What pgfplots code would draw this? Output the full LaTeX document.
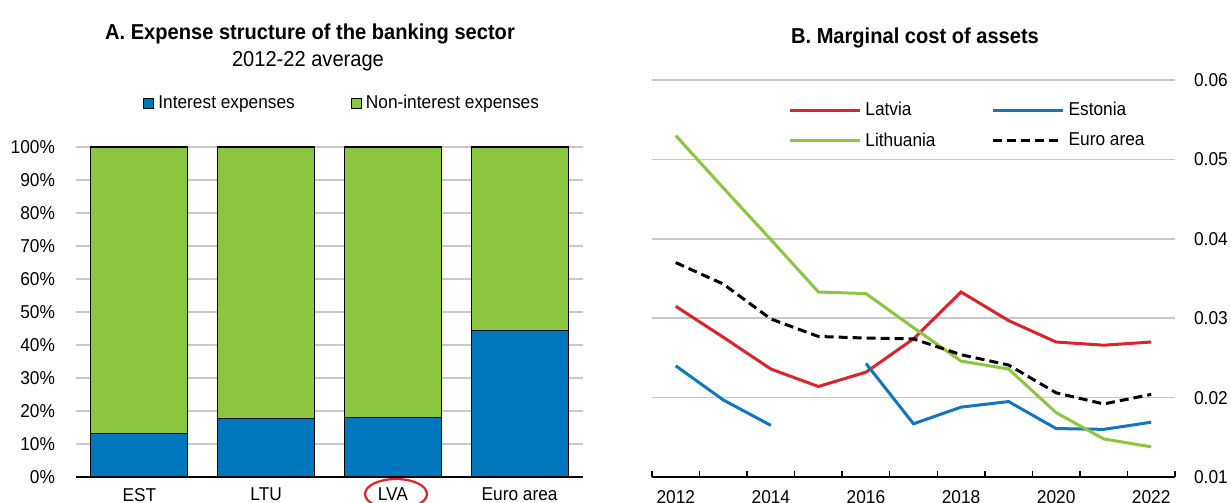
\documentclass[border=0pt]{standalone}
\usepackage{fontspec}
\setmainfont{Liberation Sans}[FakeStretch=0.93]
\usepackage{pgfplots}
\pgfplotsset{compat=1.18}

\definecolor{barblue}{RGB}{0,118,189}
\definecolor{bargreen}{RGB}{140,198,63}
\definecolor{linered}{RGB}{222,34,42}
\definecolor{lineblue}{RGB}{18,118,190}
\definecolor{gridgray}{RGB}{200,200,200}

\pgfplotsset{
  every axis/.append style={
    font=\fontsize{9.3}{11}\selectfont,
    scale only axis,
    /pgf/number format/assume math mode=true,
  },
}

\begin{document}
\begin{tikzpicture}
\useasboundingbox (0,0) rectangle (615.5pt,251.5pt);

% titles
\node[anchor=base,font=\fontsize{10.8}{12}\selectfont\bfseries] at (155pt,231.5pt) {A. Expense structure of the banking sector};
\node[anchor=base,font=\fontsize{10.8}{12}\selectfont] at (154pt,218pt) {2012-22 average};
\node[anchor=base,font=\fontsize{10.8}{12}\selectfont\bfseries] at (457.5pt,229.5pt) {B. Marginal cost of assets};

% panel A
\begin{axis}[
    at={(38pt,13pt)}, anchor=south west,
    width=253.5pt, height=165pt,
    ybar stacked, bar width=0.765,
    xmin=-0.5, xmax=3.5, ymin=0, ymax=100,
    xtick={0,1,2,3},
    xticklabels={EST,LTU,LVA,Euro area},
    ytick={0,10,...,100},
    yticklabel={\pgfmathprintnumber{\tick}\%},
    axis x line*=bottom, axis y line*=left,
    y axis line style={draw=none},
    x axis line style={line width=0.75pt},
    major tick length=0pt,
    ymajorgrids, grid style={gridgray,line width=0.8pt},
    yticklabel style={xshift=-7pt},
    xticklabel style={yshift=-2pt},
    legend style={at={(0.527,1.133)}, anchor=center, draw=none, fill=none,
      legend columns=2, inner sep=0pt,
      /tikz/every even column/.append style={column sep=26pt}},
    legend image code/.code={\draw[#1,draw=black,line width=0.5pt] (0pt,-2.5pt) rectangle (5pt,2.5pt);},
  ]
\addplot[fill=barblue,draw=black,line width=0.6pt] coordinates {(0,13.3) (1,17.8) (2,18.0) (3,44.5)};
\addplot[fill=bargreen,draw=black,line width=0.6pt] coordinates {(0,86.7) (1,82.2) (2,82.0) (3,55.5)};
\legend{Interest expenses,Non-interest expenses}
\end{axis}

\draw[linered,line width=1.1pt] (198pt,4.5pt) ellipse (15.5pt and 7.5pt);

% panel B
\begin{axis}[
    at={(326pt,13pt)}, anchor=south west,
    width=261.5pt, height=198.5pt,
    xmin=2011.5, xmax=2022.5, ymin=0.01, ymax=0.06,
    xtick={2012,2014,...,2022},
    minor xtick={2011.5,2012.5,...,2022.5},
    xticklabel style={/pgf/number format/1000 sep={}, yshift=-3pt},
    ytick={0.01,0.02,...,0.06},
    scaled y ticks=false,
    yticklabel style={/pgf/number format/fixed, /pgf/number format/precision=2,
      /pgf/number format/fixed zerofill, xshift=6pt},
    axis x line*=bottom, axis y line*=right,
    y axis line style={draw=none},
    x axis line style={line width=0.75pt},
    major tick length=0pt, minor tick length=3pt, tick align=inside,
    minor tick style={line width=0.75pt, black},
    ymajorgrids, grid style={gridgray,line width=0.8pt},
    unbounded coords=jump,
    legend style={at={(0.26,0.955)}, anchor=north west, draw=none, fill=none,
      legend columns=2, inner sep=0pt, row sep=3pt,
      /tikz/every even column/.append style={column sep=26pt}},
    legend cell align=left,
    legend image code/.code={\draw[#1] (0pt,0pt) -- (35pt,0pt);},
  ]
\addplot[linered,line width=1.5pt] coordinates {
  (2012,0.0315) (2013,0.0276) (2014,0.0236) (2015,0.0214) (2016,0.0232)
  (2017,0.0274) (2018,0.0333) (2019,0.0297) (2020,0.0270) (2021,0.0266) (2022,0.0270)};
\addplot[lineblue,line width=1.5pt] coordinates {
  (2012,0.0240) (2013,0.0197) (2014,0.0165) (2015,nan) (2016,0.0243)
  (2017,0.0167) (2018,0.0188) (2019,0.0195) (2020,0.0161) (2021,0.0160) (2022,0.0169)};
\addplot[bargreen,line width=1.5pt] coordinates {
  (2012,0.0530) (2013,0.0464) (2014,0.0399) (2015,0.0333) (2016,0.0331)
  (2017,0.0288) (2018,0.0246) (2019,0.0236) (2020,0.0181) (2021,0.0148) (2022,0.0138)};
\addplot[black,line width=1.5pt,dash pattern=on 4.5pt off 2.5pt] coordinates {
  (2012,0.0370) (2013,0.0343) (2014,0.0299) (2015,0.0277) (2016,0.0275)
  (2017,0.0274) (2018,0.0254) (2019,0.0241) (2020,0.0206) (2021,0.0192) (2022,0.0204)};
\legend{Latvia,Estonia,Lithuania,Euro area}
\end{axis}
\end{tikzpicture}
\end{document}
